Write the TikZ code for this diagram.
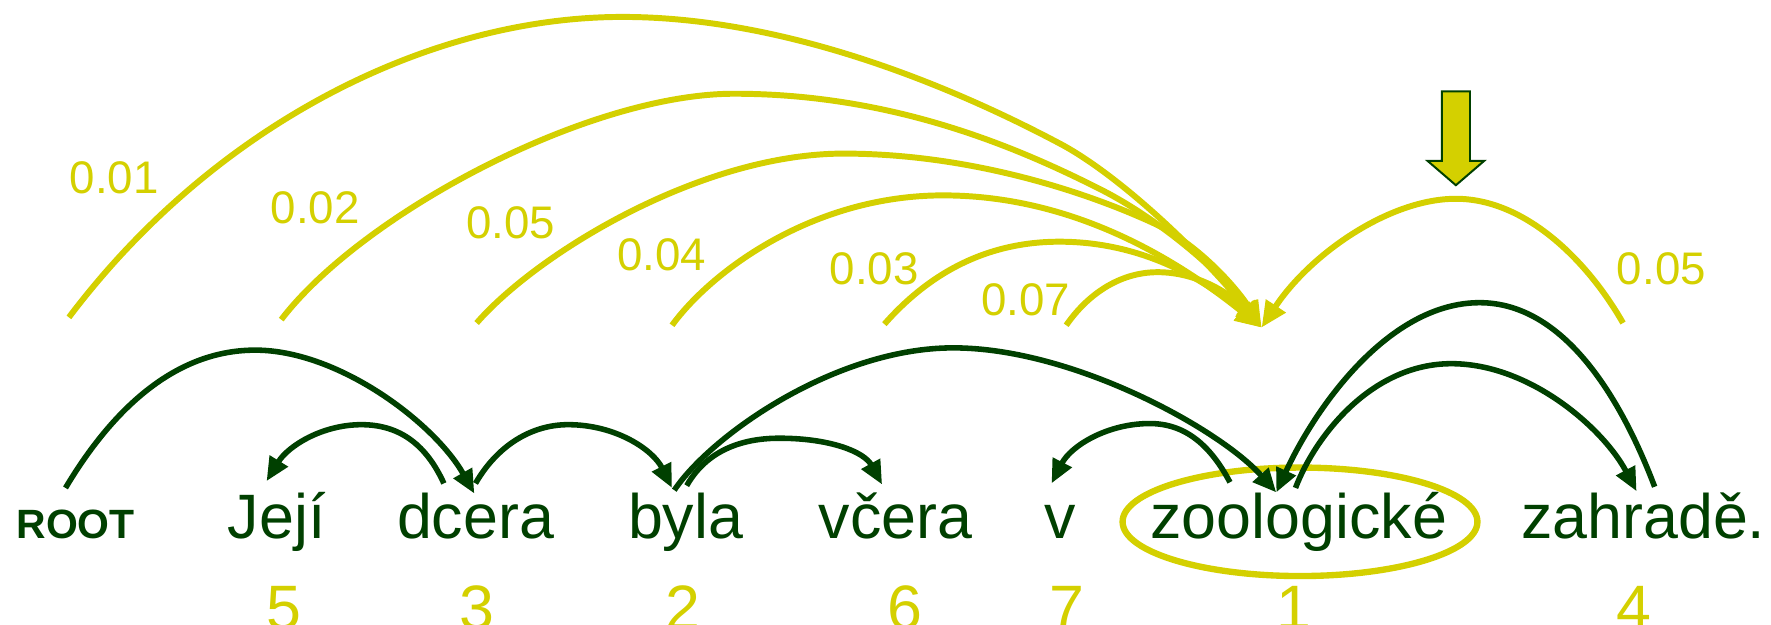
\documentclass[tikz,border=0pt]{standalone}
\usepackage{fontspec}
\setmainfont{Liberation Sans}
\usetikzlibrary{arrows.meta}
\definecolor{ylw}{RGB}{212,208,0}
\definecolor{dgreen}{RGB}{0,64,0}

\begin{document}
\begin{tikzpicture}[x=0.01cm,y=-0.01cm,
  word/.style={anchor=base, text=dgreen, font=\fontsize{15.8}{18}\selectfont, inner sep=0pt},
  rootword/.style={anchor=base, text=dgreen, font=\bfseries\fontsize{10.3}{12}\selectfont, inner sep=0pt},
  rank/.style={anchor=base, text=ylw, font=\fontsize{15.8}{18}\selectfont, inner sep=0pt},
  prob/.style={text=ylw, font=\fontsize{11.5}{13}\selectfont, inner sep=0pt},
  cand/.style={draw=ylw, line width=1.5pt, -{Triangle[length=0.23cm,width=0.2cm]}},
  dep/.style={draw=dgreen, line width=1.4pt, -{Triangle[length=0.21cm,width=0.18cm]}},
]
\useasboundingbox (0,0) rectangle (1568,552.5);

% sentence
\node[rootword] (root) at (67,477) {ROOT};
\node[word] (w1) at (245,477) {Její};
\node[word] (w2) at (421,477) {dcera};
\node[word] (w3) at (607,477) {byla};
\node[word] (w4) at (793,477) {včera};
\node[word] (w5) at (939,477) {v};
\node[word] (w6) at (1150,477) {zoologické};
\node[word] (w7) at (1455,477) {zahradě.};

% processing order
\node[rank] (r1) at (251,557) {5};
\node[rank] (r2) at (422,557) {3};
\node[rank] (r3) at (605,557) {2};
\node[rank] (r4) at (801,557) {6};
\node[rank] (r5) at (945,557) {7};
\node[rank] (r6) at (1146,557) {1};
\node[rank] (r7) at (1447,557) {4};

% highlighted word
\coordinate (hl) at (1151,462);
\draw[ylw, line width=1.6pt] (hl) ellipse [x radius=1.57cm, y radius=0.48cm];

% candidate heads for the highlighted word
\coordinate (tip) at (1117,290);
\coordinate (c1) at (61,281);
\coordinate (c2) at (249,283);
\coordinate (c3) at (422,286);
\coordinate (c4) at (595,288);
\coordinate (c5) at (783,287);
\coordinate (c6) at (944,288);
\coordinate (c7) at (1437,286);

\draw[cand] (c1) .. controls (190,110) and (380,15) .. (551,15)
  .. controls (700,15) and (850,80) .. (940,128)
  .. controls (990,155) and (1060,220) .. (tip);
\draw[cand] (c2) .. controls (320,190) and (520,83) .. (650,83)
  .. controls (790,83) and (900,130) .. (975,168)
  .. controls (1030,196) and (1085,245) .. (tip);
\draw[cand] (c3) .. controls (475,225) and (620,136) .. (747,136)
  .. controls (850,136) and (950,165) .. (1020,197)
  .. controls (1060,215) and (1095,255) .. (tip);
\draw[cand] (c4) .. controls (630,240) and (720,173) .. (835,173)
  .. controls (940,173) and (1030,220) .. (tip);
\draw[cand] (c5) .. controls (820,245) and (870,214) .. (938,214)
  .. controls (1005,214) and (1060,242) .. (tip);
\draw[cand] (c6) .. controls (962,262) and (990,241) .. (1025,241)
  .. controls (1060,241) and (1090,260) .. (tip);
\draw[cand] (c7) .. controls (1405,230) and (1350,176) .. (1289,176)
  .. controls (1230,176) and (1160,225) .. (tip);

\node[prob] (p1) at (101,157) {0.01};
\node[prob] (p2) at (279,184) {0.02};
\node[prob] (p3) at (452,197) {0.05};
\node[prob] (p4) at (586,226) {0.04};
\node[prob] (p5) at (774,238) {0.03};
\node[prob] (p6) at (908,265) {0.07};
\node[prob] (p7) at (1471,238) {0.05};

% block arrow marking the current word
\draw[fill=ylw, draw=dgreen, line width=0.5pt]
  (1276.5,81) -- (1301.5,81) -- (1301.5,142.5) -- (1314,142.5) -- (1289,164)
  -- (1264,142.5) -- (1276.5,142.5) -- cycle;

% dependency arcs
\coordinate (rootout) at (58,432);
\coordinate (w1in) at (236,426);
\coordinate (w2in) at (420,437);
\coordinate (w2outl) at (393,428);
\coordinate (w2outr) at (421,428);
\coordinate (w3in) at (595,432);
\coordinate (w3outa) at (597,434);
\coordinate (w3outb) at (608,430);
\coordinate (w4in) at (781,429);
\coordinate (w5in) at (931,428);
\coordinate (w6in) at (1130,436);
\coordinate (w6outl) at (1089,427);
\coordinate (w6outr) at (1147,432);
\coordinate (w7in) at (1449,435);
\coordinate (w7out) at (1465,431);

\draw[dep] (rootout) .. controls (95,370) and (150,310) .. (226,310)
  .. controls (300,310) and (385,375) .. (w2in);
\draw[dep] (w2outl) .. controls (378,395) and (355,376) .. (320,376)
  .. controls (285,376) and (255,395) .. (w1in);
\draw[dep] (w2outr) .. controls (440,395) and (470,376) .. (503,376)
  .. controls (545,376) and (578,398) .. (w3in);
\draw[dep] (w3outb) .. controls (625,400) and (655,388) .. (690,388)
  .. controls (735,388) and (765,400) .. (w4in);
\draw[dep] (w3outa) .. controls (630,385) and (740,308) .. (844,308)
  .. controls (950,308) and (1080,380) .. (w6in);
\draw[dep] (w6outl) .. controls (1072,395) and (1050,375) .. (1018,375)
  .. controls (980,375) and (948,395) .. (w5in);
\draw[dep] (w7out) .. controls (1440,365) and (1390,268) .. (1310,268)
  .. controls (1230,268) and (1165,360) .. (w6in);
\draw[dep] (w6outr) .. controls (1165,385) and (1215,322) .. (1285,322)
  .. controls (1355,322) and (1420,380) .. (w7in);
\end{tikzpicture}
\end{document}
